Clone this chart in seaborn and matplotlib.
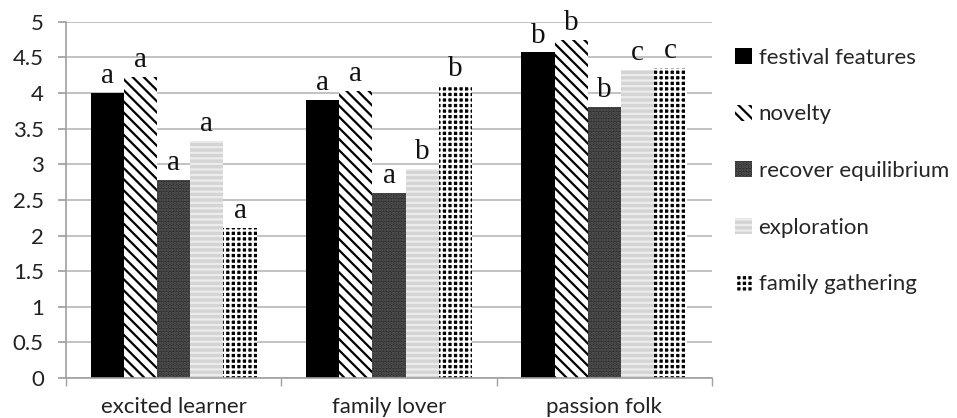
import matplotlib
matplotlib.use("Agg")
import matplotlib.pyplot as plt
from matplotlib.patches import Patch
import seaborn as sns
import pandas as pd
import numpy as np

# ─── Data ─────────────────────────────────────────────────────────────────────
segments = ["excited learner", "family lover", "passion folk"]
motives = [
    "festival features",
    "novelty",
    "recover equilibrium",
    "exploration",
    "family gathering",
]
festival_features = [4.0, 3.9, 4.57]
novelty = [4.22, 4.03, 4.75]
recover_equilibrium = [2.78, 2.6, 3.8]
exploration = [3.33, 2.93, 4.33]
family_gathering = [2.1, 4.1, 4.35]
letters = [
    ["a", "a", "b"],
    ["a", "a", "b"],
    ["a", "a", "b"],
    ["a", "b", "c"],
    ["a", "b", "c"],
]

series = [festival_features, novelty, recover_equilibrium, exploration, family_gathering]
df = pd.DataFrame(
    [(seg, m, v[i]) for m, v in zip(motives, series) for i, seg in enumerate(segments)],
    columns=["segment", "motive", "score"],
)

# ─── Styling ──────────────────────────────────────────────────────────────────
sns.set_theme(style="white")
plt.rcParams["font.family"] = ["Lato", "DejaVu Sans"]
plt.rcParams["hatch.linewidth"] = 1.6

styles = [
    dict(face="#000000", edge="#000000", hatch=None),
    dict(face="#ffffff", edge="#000000", hatch="\\\\\\"),
    dict(face="#2e2e2e", edge="#5a5a5a", hatch="....."),
    dict(face="#d4d4d4", edge="#ececec", hatch="---"),
    dict(face="#000000", edge="#ffffff", hatch="+++"),
]

fig = plt.figure(figsize=(9.57, 4.18), dpi=100)
ax = fig.add_axes([0.069, 0.0957, 0.675, 0.852])

sns.barplot(
    data=df, x="segment", y="score", hue="motive",
    order=segments, hue_order=motives, width=0.77,
    palette=["#000000"] * 5, errorbar=None, ax=ax, legend=False,
)

for k, cont in enumerate(ax.containers):
    st = styles[k]
    for j, bar in enumerate(cont):
        bar.set_facecolor(st["face"])
        bar.set_edgecolor(st["edge"])
        bar.set_linewidth(0)
        if st["hatch"]:
            bar.set_hatch(st["hatch"])
        ax.text(
            bar.get_x() + bar.get_width() / 2, bar.get_height() + 0.14,
            letters[k][j], ha="center", va="baseline",
            fontsize=21, family="Liberation Serif", color="#111111",
        )

ax.set_ylim(0, 5)
ticks = np.arange(0, 5.01, 0.5)
ax.set_yticks(ticks)
ax.set_yticklabels([f"{t:g}" for t in ticks])
ax.set_xlim(-0.5, 2.5)
ax.yaxis.grid(True, color="#b8b8b8", linewidth=1.2)
ax.set_axisbelow(True)
ax.set_xlabel("")
ax.set_ylabel("")

for s in ["top", "right"]:
    ax.spines[s].set_visible(False)
for s in ["left", "bottom"]:
    ax.spines[s].set_color("#a0a0a0")
    ax.spines[s].set_linewidth(1.2)

ax.tick_params(axis="y", left=True, length=6, color="#a0a0a0", labelsize=16,
               labelcolor="#222222", pad=10)
ax.tick_params(axis="x", bottom=False, labelsize=16, labelcolor="#222222", pad=8)
ax.set_xticks([0, 1, 2])
ax.set_xticks([-0.5, 0.5, 1.5, 2.5], minor=True)
ax.tick_params(axis="x", which="minor", bottom=True, length=6, color="#a0a0a0")

# legend with small squares
handles = [
    Patch(facecolor=st["face"], edgecolor=st["edge"], hatch=st["hatch"], linewidth=0)
    for st in styles
]
fig.legend(
    handles, motives, loc="upper left", bbox_to_anchor=(0.759, 0.907),
    frameon=False, fontsize=16, handlelength=0.75, handleheight=0.75,
    handletextpad=0.3, labelspacing=1.65, borderaxespad=0,
)

plt.savefig("out.png", dpi=100)
plt.close()
